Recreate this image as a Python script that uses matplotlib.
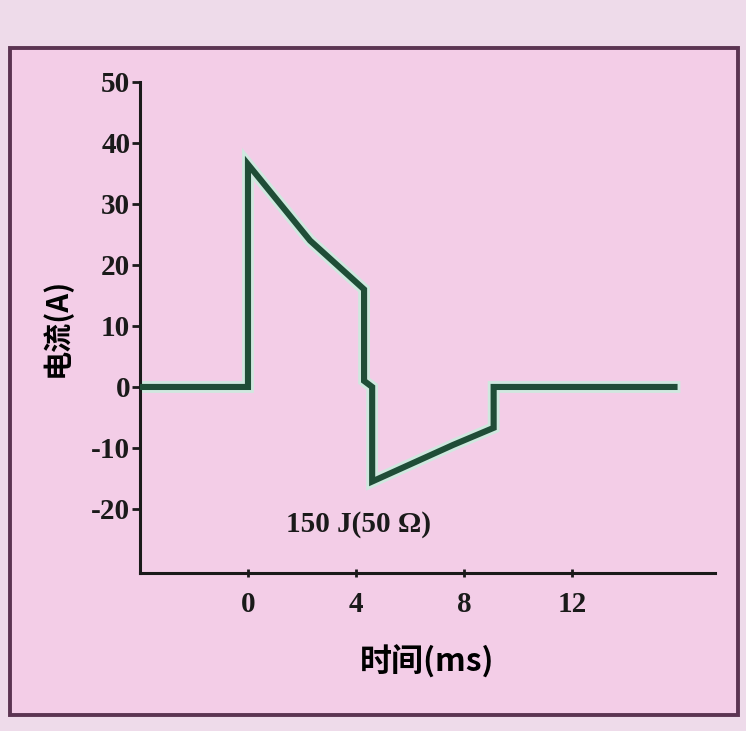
import matplotlib.pyplot as plt
from matplotlib.patches import Rectangle

plt.rcParams['font.family'] = ['Liberation Serif', 'Noto Sans CJK SC', 'DejaVu Sans']
plt.rcParams['font.weight'] = 'bold'

# current waveform of the 150 J (50 ohm) shock
time_ms = [-4, 0, 0, 2.3, 4.3, 4.3, 4.6, 4.6, 7.6, 9.1, 9.1, 15.8]
current_a = [0, 0, 36.5, 24, 16, 1, 0, -15.5, -9.5, -6.7, 0, 0]

x_ticks = [0, 4, 8, 12]
y_ticks = [-20, -10, 0, 10, 20, 30, 40, 50]
y_tick_labels = ['-20', '-10', '0', '10', '20', '30', '40', '50']

fig = plt.figure(figsize=(7.46, 7.31), dpi=100)
fig.patch.set_facecolor('#eedbea')

# pink panel with dark border, kept behind the axes
fig.patches.append(Rectangle((10 / 746, 16 / 731), 728 / 746, 667 / 731,
                             transform=fig.transFigure, facecolor='#f3cde7',
                             edgecolor='#5b3452', linewidth=2.8, zorder=-10))

ax = fig.add_axes([140 / 746, 158 / 731, 575 / 746, 491 / 731])
ax.set_zorder(5)
ax.set_facecolor('none')
ax.set_xlim(-4, 17.3)
ax.set_ylim(-30.5, 50)

ax.plot(time_ms, current_a, color='#c6efdd', lw=8.5, alpha=0.8,
        solid_joinstyle='miter', zorder=2)
ax.plot(time_ms, current_a, color='#1f4d37', lw=4.4,
        solid_joinstyle='miter', zorder=3)

for side in ['top', 'right']:
    ax.spines[side].set_visible(False)
for side in ['left', 'bottom']:
    ax.spines[side].set_color('#1a1a1a')
    ax.spines[side].set_linewidth(2.2)

ax.set_xticks(x_ticks)
ax.set_yticks(y_ticks)
ax.set_yticklabels(y_tick_labels)
ax.tick_params(axis='y', direction='out', length=6, width=2, labelsize=21,
               pad=1, colors='#1a1a1a')
ax.tick_params(axis='x', direction='inout', length=6, width=2, labelsize=21,
               pad=10, colors='#1a1a1a')

ax.set_xlabel('时间(ms)', fontsize=23, labelpad=20,
              family=['Noto Sans CJK SC', 'DejaVu Sans'], weight='bold')
ax.set_ylabel('电流(A)', fontsize=21, labelpad=14,
              family=['Noto Sans CJK SC', 'DejaVu Sans'], weight='bold')

ax.text(4.1, -22.5, '150 J(50 Ω)', fontsize=21, ha='center', va='center',
        color='#1a1a1a')

fig.savefig('out.png', dpi=100, facecolor=fig.get_facecolor())
